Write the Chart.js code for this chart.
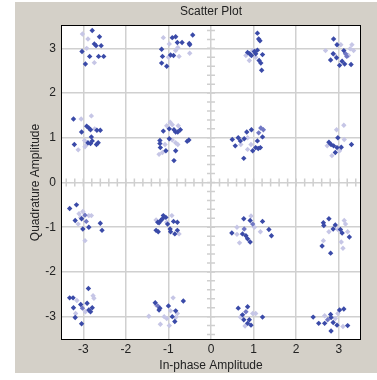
<!DOCTYPE html>
<html>
<head>
<meta charset="utf-8">
<title>Scatter Plot</title>
<script src="https://cdn.jsdelivr.net/npm/chart.js@4.4.0/dist/chart.umd.min.js"></script>
<style>
  html, body { margin: 0; padding: 0; background: #fff; overflow: hidden; }
  canvas { display: block; }
</style>
</head>
<body>
<canvas id="scatter" width="377" height="380"></canvas>
<script>
// 16-QAM constellation, points
const xTicks = [-3, -2, -1, 0, 1, 2, 3];
const yTicks = [-3, -2, -1, 0, 1, 2, 3];

// newest samples (dark blue)
const darkPoints = [
    [-2.79, 3.40], [-2.62, 3.26], [-2.74, 3.10], [-2.70, 3.06], [-2.58, 3.06], [-3.03, 2.93], [-2.85, 2.82], [-2.64, 2.82], [-2.52, 2.82], [-2.95, 2.65],
    [-1.16, 2.98], [-1.14, 2.82], [-1.16, 2.67], [-1.04, 2.60], [-0.91, 3.24], [-0.83, 3.26], [-0.79, 3.13], [-0.68, 3.13], [-0.51, 3.11], [-0.50, 3.08], [-0.43, 3.30], [-0.95, 2.85], [-0.88, 2.84],
    [-3.23, 1.42], [-3.04, 1.13], [-2.92, 1.26], [-2.87, 1.22], [-2.83, 1.18], [-2.68, 1.17], [-2.60, 1.17], [-2.81, 1.02], [-2.89, 0.89], [-2.83, 0.87], [-2.79, 0.93], [-2.69, 0.85], [-2.65, 0.89], [-3.21, 0.85],
    [-1.12, 1.15], [-0.98, 1.20], [-0.87, 1.18], [-0.83, 1.13], [-0.78, 1.13], [-0.72, 1.18], [-1.20, 0.94], [-1.20, 0.87], [-1.19, 0.78], [-1.06, 0.71], [-0.98, 0.98], [-0.83, 0.71], [-0.87, 0.49], [-0.56, 0.92], [-0.52, 0.95],
    [1.09, 3.34], [1.12, 3.21], [1.15, 3.17], [0.86, 2.91], [0.91, 2.88], [0.95, 2.84], [1.02, 2.93], [1.09, 2.96], [1.05, 2.88], [1.21, 2.86], [1.13, 2.73], [1.17, 2.67], [1.19, 2.51],
    [2.88, 3.21], [2.96, 3.08], [2.87, 2.88], [2.81, 2.74], [2.95, 2.79], [3.12, 2.95], [3.08, 2.71], [3.02, 2.62], [3.14, 2.65], [3.29, 2.64],
    [0.50, 0.96], [0.57, 0.82], [0.64, 1.00], [0.69, 0.93], [0.77, 0.54], [0.84, 1.13], [0.95, 1.18], [0.98, 0.71], [1.05, 0.78], [1.11, 0.76], [1.16, 0.78], [1.09, 0.93], [1.21, 1.02], [0.78, 0.98],
    [2.98, 1.00], [2.77, 0.90], [2.82, 0.85], [2.88, 0.82], [2.96, 0.78], [2.92, 0.67], [3.06, 0.79], [3.30, 0.85],
    [-3.32, -0.58], [-3.16, -0.50], [-3.19, -0.85], [-3.04, -0.81], [-3.01, -1.04], [-2.87, -1.00], [-2.60, -0.91], [-2.56, -1.07],
    [-1.25, -0.89], [-1.22, -0.90], [-1.18, -0.85], [-1.14, -0.81], [-1.12, -0.74], [-1.06, -0.78], [-0.88, -0.87], [-0.79, -0.89], [-0.96, -1.04], [-1.29, -1.07], [-1.24, -1.10], [-0.95, -1.10], [-0.85, -1.15], [-0.79, -1.07], [-1.02, -0.93],
    [-3.32, -2.58], [-3.24, -2.58], [-3.23, -2.80], [-3.06, -2.73], [-2.88, -2.37], [-2.91, -2.70], [-2.87, -2.85], [-2.83, -2.89], [-2.79, -2.80], [-3.19, -3.02], [-3.04, -3.16],
    [-1.31, -2.69], [-1.20, -2.81], [-1.22, -2.85], [-1.00, -2.76], [-0.83, -2.87], [-0.65, -2.65], [-0.91, -3.00], [-0.85, -3.11],
    [0.77, -0.81], [0.92, -0.85], [1.21, -0.87], [0.49, -1.13], [0.74, -1.15], [0.82, -1.19], [0.86, -1.26], [0.92, -1.33], [1.36, -1.05], [1.42, -1.19],
    [2.77, -0.81], [2.64, -0.90], [2.65, -0.96], [2.92, -0.95], [2.87, -1.04], [3.04, -1.05], [3.25, -1.22], [2.61, -1.42], [2.81, -1.58], [3.08, -1.13],
    [0.64, -2.81], [0.86, -2.78], [0.74, -2.96], [0.90, -3.07], [0.86, -3.15], [0.94, -3.19], [1.21, -3.01], [0.77, -3.07],
    [2.40, -3.01], [2.53, -3.15], [2.67, -3.15], [2.81, -2.95], [2.82, -3.02], [2.87, -3.13], [2.82, -3.32], [3.02, -2.85], [3.12, -2.83], [2.96, -3.19], [3.21, -3.20]
];

// older samples (mid blue)
const midPoints = [
    [3.16, 2.88], [3.19, 2.82], [1.12, 1.11], [1.17, 1.22], [1.23, 1.18],
    [-2.96, -0.73], [-2.93, -0.87], [-3.02, -2.81], [-1.25, -2.76], [0.98, -0.93], [0.78, -1.04],
    [0.82, -2.89], [2.74, -3.07]
];

// oldest samples (faded)
const lightPoints = [
    [-3.02, 3.32], [-2.89, 3.21], [-2.92, 3.00], [-2.74, 2.68],
    [-1.12, 3.24], [-0.98, 3.10], [-0.78, 3.02], [-0.50, 2.89], [-1.00, 2.80], [-0.83, 2.95], [-0.75, 2.82],
    [-3.05, 1.42], [-2.81, 1.49], [-2.73, 1.20], [-2.97, 0.94], [-3.12, 0.73], [-2.96, 0.80], [-2.92, 0.85],
    [-0.96, 1.35], [-0.91, 1.29], [-0.77, 1.27], [-1.14, 0.67], [-1.22, 0.63], [-0.91, 0.95], [-0.83, 0.89], [-0.78, 0.85], [-1.04, 1.27], [-1.08, 0.85],
    [0.98, 2.95], [0.90, 2.73], [1.05, 2.80], [0.82, 2.84],
    [3.05, 3.08], [3.31, 3.08], [3.27, 2.99], [2.69, 2.95], [3.23, 2.84], [2.90, 2.86], [3.35, 2.95],
    [0.70, 0.85], [0.86, 1.00], [0.86, 0.74], [0.94, 0.85],
    [2.95, 1.18], [3.12, 1.28], [3.13, 0.96], [2.84, 0.60], [2.73, 0.82], [3.02, 0.71],
    [-3.12, -0.93], [-3.06, -0.78], [-3.01, -0.65], [-2.87, -0.74], [-2.81, -0.74], [-2.96, -1.30], [-3.10, -0.70],
    [-1.29, -0.84], [-1.04, -0.89], [-0.92, -0.74], [-0.75, -1.15],
    [-3.15, -2.64], [-2.77, -2.53], [-2.75, -2.59], [-3.18, -2.93], [-2.95, -2.89],
    [-1.29, -2.74], [-0.95, -2.87], [-0.89, -2.58], [-1.10, -3.00], [-1.04, -3.04], [-0.83, -3.02], [-1.19, -3.17], [-0.98, -3.20], [-1.46, -2.99], [-0.79, -2.93],
    [0.94, -0.75], [0.61, -1.00], [0.61, -1.16], [0.67, -1.35], [1.16, -1.10], [1.02, -1.00],
    [2.98, -1.05], [3.13, -0.85], [3.16, -0.93], [3.21, -1.10], [2.77, -1.10], [2.64, -1.30], [3.06, -1.33], [3.10, -1.47],
    [0.69, -3.01], [0.98, -2.93], [1.05, -2.93], [0.80, -3.21],
    [2.67, -2.98], [2.92, -3.04], [2.98, -2.93], [3.10, -3.22]
];

function toXY(list){
    return list.map(p => ({ x: p[0], y: p[1] }));
}

function series(label, pts, color){
    return {
        label: label,
        data: toXY(pts),
        backgroundColor: color,
        borderColor: color,
        borderWidth: 0,
        pointStyle: 'rectRot',
        pointRadius: 2.7,
        pointHoverRadius: 2.7
    };
}

// grey figure panel, white axes box, black frame and the tick marks along the zero lines
const framePlugin = {
    id: 'frame',
    beforeDraw(chart){
        const ctx = chart.ctx;
        const a = chart.chartArea;
        ctx.save();
        ctx.fillStyle = '#ffffff';
        ctx.fillRect(0, 0, chart.width, chart.height);
        ctx.fillStyle = '#d4d0c8';
        ctx.fillRect(15, 2, chart.width - 15, 371);
        ctx.fillStyle = '#ffffff';
        ctx.fillRect(a.left, a.top, a.right - a.left, a.bottom - a.top);
        ctx.restore();
    },
    beforeDatasetsDraw(chart){
        const ctx = chart.ctx;
        const xs = chart.scales.x, ys = chart.scales.y;
        const x0 = xs.getPixelForValue(0), y0 = ys.getPixelForValue(0);
        ctx.save();
        ctx.strokeStyle = '#cfcfcf';
        ctx.lineWidth = 1.5;
        ctx.beginPath();
        for (let i = -17; i <= 17; i++) {
            const v = i / 5;
            const px = xs.getPixelForValue(v);
            const py = ys.getPixelForValue(v);
            ctx.moveTo(px, y0 - 4); ctx.lineTo(px, y0 + 4);
            ctx.moveTo(x0 - 4, py); ctx.lineTo(x0 + 4, py);
        }
        ctx.stroke();
        ctx.restore();
    },
    afterDraw(chart){
        const ctx = chart.ctx;
        const a = chart.chartArea;
        ctx.save();
        ctx.strokeStyle = '#000000';
        ctx.lineWidth = 1;
        ctx.strokeRect(Math.round(a.left) - 0.5, Math.round(a.top) - 0.5, Math.round(a.right - a.left) + 1, Math.round(a.bottom - a.top) + 1);
        ctx.restore();
    }
};

const font = { family: '"Liberation Sans", Arial, sans-serif', size: 12, weight: 'normal' };

new Chart(document.getElementById('scatter'), {
    type: 'scatter',
    data: {
        datasets: [
            series('recent', darkPoints, '#3a4aa8'),
            series('older', midPoints, '#7178c4'),
            series('oldest', lightPoints, '#c6c6e6')
        ]
    },
    options: {
        responsive: false,
        animation: false,
        layout: { padding: { left: 0, right: 17, top: 0, bottom: 0 } },
        plugins: {
            legend: { display: false },
            tooltip: { enabled: false },
            title: { display: false }
        },
        scales: {
            x: {
                type: 'linear',
                min: -3.5,
                max: 3.5,
                afterBuildTicks: (s) => { s.ticks = xTicks.map(v => ({ value: v })); },
                afterFit: (s) => { s.height = 41; },
                ticks: { color: '#222', font: font, padding: 3 },
                grid: { color: '#d0d0d0', lineWidth: 1.5, drawTicks: false },
                border: { display: false },
                title: { display: true, text: 'In-phase Amplitude', color: '#222', font: font, padding: { top: 0, bottom: 7 } }
            },
            // top axis only carries the plot title, centred over the axes box
            top: {
                type: 'linear',
                position: 'top',
                min: -3.5,
                max: 3.5,
                afterFit: (s) => { s.height = 26; },
                ticks: { display: false },
                grid: { display: false },
                border: { display: false },
                title: { display: true, text: 'Scatter Plot', color: '#222', font: font, padding: { top: 4, bottom: 0 } }
            },
            y: {
                type: 'linear',
                min: -3.5,
                max: 3.5,
                afterBuildTicks: (s) => { s.ticks = yTicks.map(v => ({ value: v })); },
                afterFit: (s) => { s.width = 62; },
                ticks: { color: '#222', font: font, padding: 6 },
                grid: { color: '#d0d0d0', lineWidth: 1.5, drawTicks: false },
                border: { display: false },
                title: { display: true, text: 'Quadrature Amplitude', color: '#222', font: font, padding: { top: 28, bottom: 0 } }
            }
        }
    },
    plugins: [framePlugin]
});
</script>
</body>
</html>
